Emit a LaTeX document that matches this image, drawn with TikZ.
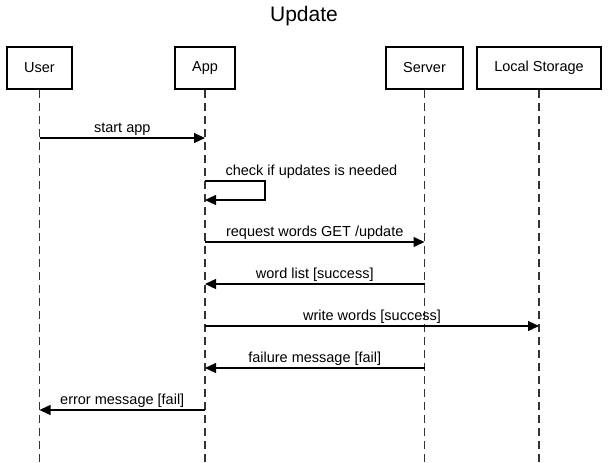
\documentclass[tikz,border=0pt]{standalone}
\usepackage{fontspec}
\setmainfont{Liberation Sans}
\usetikzlibrary{arrows.meta,positioning}

\begin{document}
\begin{tikzpicture}[
x=1pt, y=-1pt,
actor/.style={rectangle, draw, line width=2pt, minimum height=42pt, inner sep=0pt, font=\fontsize{14.5}{17}\selectfont},
lifeline/.style={dash pattern=on 8pt off 5pt, line width=1.2pt, draw=black!80},
msg/.style={line width=1.2pt, arrows={-{Triangle[length=11pt,width=10pt]}}},
lbl/.style={font=\fontsize{14.5}{17}\selectfont, inner sep=2pt}]
\useasboundingbox (0,0) rectangle (608,463);
% Nodes
\node[font=\fontsize{21}{25}\selectfont] (title) at (304,16) {Update};
\node[actor, minimum width=65pt] (user) at (39.5,68) {User};
\node[actor, minimum width=60pt] (app) at (205,68) {App};
\node[actor, minimum width=77pt] (server) at (424.5,68) {Server};
\node[actor, minimum width=124pt] (store) at (539,68) {Local Storage};
\coordinate (bottom) at (0,463);
\coordinate (m1) at (0,138);
\coordinate (m2) at (0,181);
\coordinate (m2b) at (0,200);
\coordinate (m3) at (0,242);
\coordinate (m4) at (0,284);
\coordinate (m5) at (0,326);
\coordinate (m6) at (0,368);
\coordinate (m7) at (0,410);
% Lifelines
\draw[lifeline] (user.south) -- (user |- bottom);
\draw[lifeline] (app.south) -- (app |- bottom);
\draw[lifeline] (server.south) -- (server |- bottom);
\draw[lifeline] (store.south) -- (store |- bottom);
% Messages
\draw[msg] (user |- m1) -- node[lbl, above] {start app} (app |- m1);
\draw[msg] (app |- m2) -- node[lbl, pos=0, anchor=south west, xshift=18pt] {check if updates is needed} ++(60,0) |- (app |- m2b);
\draw[msg] (app |- m3) -- node[lbl, above] {request words GET /update} (server |- m3);
\draw[msg] (server |- m4) -- node[lbl, above] {word list [success]} (app |- m4);
\draw[msg] (app |- m5) -- node[lbl, above] {write words [success]} (store |- m5);
\draw[msg] (server |- m6) -- node[lbl, above] {failure message [fail]} (app |- m6);
\draw[msg] (app |- m7) -- node[lbl, above] {error message [fail]} (user |- m7);
\end{tikzpicture}
\end{document}
